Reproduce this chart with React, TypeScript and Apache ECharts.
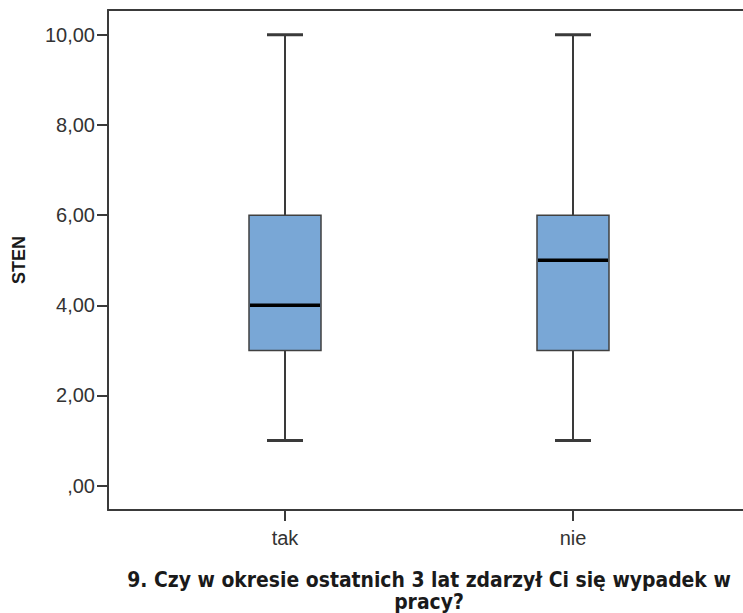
import React, { useEffect, useRef } from 'react';
import * as echarts from 'echarts';

const categories = ['tak', 'nie'];
const categoryPositions = [1, 2];
const mins = [1, 1];
const q1s = [3, 3];
const medians = [4, 5];
const q3s = [6, 6];
const maxs = [10, 10];
const yTickValues = [0, 2, 4, 6, 8, 10];
const yTickLabels = [',00', '2,00', '4,00', '6,00', '8,00', '10,00'];
const yAxisName = 'STEN';
const xAxisTitle = '9. Czy w okresie ostatnich 3 lat zdarzył Ci się wypadek w\npracy?';

const LINE = '#3a3a3a';
const X_MIN = 0.3854;
const X_MAX = 2.6146;

export default function App() {
  const ref = useRef<HTMLDivElement>(null);
  useEffect(() => {
    const chart = echarts.init(ref.current!, null, { renderer: 'svg' });
    const data = categories.map((_, i) => [categoryPositions[i], mins[i], q1s[i], medians[i], q3s[i], maxs[i]]);
    const renderItem = (params: any, api: any) => {
      const x = api.value(0);
      const [cx, yMin] = api.coord([x, api.value(1)]);
      const yQ1 = api.coord([x, api.value(2)])[1];
      const yMed = api.coord([x, api.value(3)])[1];
      const yQ3 = api.coord([x, api.value(4)])[1];
      const yMax = api.coord([x, api.value(5)])[1];
      const boxW = 72;
      const capW = 36;
      const ws = { stroke: LINE, lineWidth: 2 };
      const cs = { stroke: LINE, lineWidth: 3 };
      return {
        type: 'group',
        children: [
          { type: 'line', shape: { x1: cx, y1: yMax, x2: cx, y2: yQ3 }, style: ws },
          { type: 'line', shape: { x1: cx, y1: yQ1, x2: cx, y2: yMin }, style: ws },
          { type: 'line', shape: { x1: cx - capW / 2, y1: yMax, x2: cx + capW / 2, y2: yMax }, style: cs },
          { type: 'line', shape: { x1: cx - capW / 2, y1: yMin, x2: cx + capW / 2, y2: yMin }, style: cs },
          {
            type: 'rect',
            shape: { x: cx - boxW / 2, y: yQ3, width: boxW, height: yQ1 - yQ3 },
            style: { fill: '#79a7d6', stroke: '#404040', lineWidth: 1.5 },
          },
          {
            type: 'line',
            shape: { x1: cx - boxW / 2 + 1, y1: yMed, x2: cx + boxW / 2 - 1, y2: yMed },
            style: { stroke: '#000', lineWidth: 3.5 },
          },
        ],
      };
    };
    chart.setOption({
      animation: false,
      grid: {
        left: 108,
        top: 10,
        right: -7,
        bottom: 103,
        containLabel: false,
        outerBoundsMode: 'none',
        show: false,
      },
      xAxis: [
        {
          type: 'value',
          min: X_MIN,
          max: X_MAX,
          position: 'bottom',
          axisLine: { show: true, onZero: false, lineStyle: { color: LINE, width: 2 } },
          axisTick: { show: true, inside: false, customValues: categoryPositions, length: 11, lineStyle: { color: LINE, width: 2 } },
          axisLabel: {
            customValues: categoryPositions,
            formatter: (v: number) => categories[categoryPositions.indexOf(v)] ?? '',
            margin: 18,
            fontFamily: 'Liberation Sans',
            fontSize: 20,
            color: '#333',
          },
          splitLine: { show: false },
          name: xAxisTitle,
          nameLocation: 'middle',
          nameGap: 59,
          nameTextStyle: {
            fontFamily: "'DejaVu Sans Condensed', 'DejaVu Sans'",
            fontWeight: 'bold',
            fontSize: 20.9,
            color: '#1a1a1a',
            lineHeight: 22,
          },
        },
        {
          type: 'value',
          min: X_MIN,
          max: X_MAX,
          position: 'top',
          axisLine: { show: true, onZero: false, lineStyle: { color: LINE, width: 2 } },
          axisTick: { show: false },
          axisLabel: { show: false },
          splitLine: { show: false },
        },
      ],
      yAxis: {
        type: 'value',
        min: -0.54,
        max: 10.55,
        axisLine: { show: true, onZero: false, lineStyle: { color: LINE, width: 2 } },
        axisTick: { show: true, inside: false, customValues: yTickValues, length: 11, lineStyle: { color: LINE, width: 2 } },
        axisLabel: {
          customValues: yTickValues,
          formatter: (v: number) => yTickLabels[yTickValues.indexOf(v)] ?? '',
          margin: 13,
          fontFamily: 'Liberation Sans',
          fontSize: 20,
          color: '#333',
        },
        splitLine: { show: false },
        name: yAxisName,
        nameLocation: 'middle',
        nameRotate: 90,
        nameGap: 80,
        nameTextStyle: {
          fontFamily: 'Liberation Sans',
          fontWeight: 'bold',
          fontSize: 18,
          color: '#1a1a1a',
        },
      },
      series: [
        {
          type: 'custom',
          renderItem,
          data,
          xAxisIndex: 0,
          encode: { x: 0, y: [1, 2, 3, 4, 5] },
          clip: false,
        },
      ],
    });
    return () => chart.dispose();
  }, []);
  return (
    <div
      ref={ref}
      style={{ position: 'fixed', left: 0, top: 0, width: 743, height: 613, background: '#fff' }}
    />
  );
}
